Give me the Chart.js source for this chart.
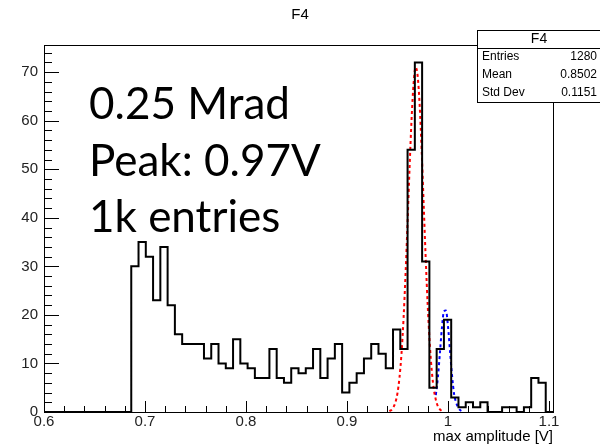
<!DOCTYPE html>
<html>
<head>
<meta charset="utf-8">
<title>F4</title>
<script src="https://cdn.jsdelivr.net/npm/chart.js@4.4.1/dist/chart.umd.min.js"></script>
<style>
  html, body { margin: 0; padding: 0; background: #fff; }
  #wrap { width: 600px; height: 447px; }
</style>
</head>
<body>
<div id="wrap"><canvas id="hist" width="600" height="447"></canvas></div>
<script>
// histogram: 70 bins on [xLow, xHigh]
const xLow = 0.6;
const xHigh = 1.104;
const binCounts = [
  0, 0, 0, 0, 0, 0, 0, 0, 0, 0, 0, 0,
  30, 35, 32, 23, 34, 22, 16, 14, 14, 14,
  11, 14, 10, 9, 15, 10, 9, 7, 7, 13,
  7, 6, 9, 8, 9, 13, 7, 11, 14, 4,
  6, 8, 11, 14, 12, 9, 17, 13, 54, 72,
  31, 5, 13, 19, 3, 1, 2, 1, 2, 0,
  0, 1, 1, 0, 1, 7, 6, 0
];
const yTop = 75.6;

// fitted peaks (red: main peak, blue: second peak)
const redFitX = [0.942, 0.944, 0.946, 0.948, 0.950, 0.952, 0.954, 0.956, 0.958, 0.960, 0.962, 0.964, 0.966, 0.968,
                 0.970, 0.972, 0.974, 0.976, 0.978, 0.980, 0.982, 0.984, 0.986, 0.988, 0.990, 0.992, 0.994];
const redFitY = [0.2, 0.4, 1.0, 2.0, 3.9, 7.1, 12.1, 19.2, 28.4, 39.1, 50.4, 60.5, 67.8, 71.0,
                 69.2, 63.1, 53.6, 42.5, 31.4, 21.7, 14.0, 8.4, 4.7, 2.5, 1.2, 0.55, 0.2];
const blueFitX = [0.988, 0.990, 0.992, 0.994, 0.996, 0.998, 1.000, 1.002, 1.004, 1.006, 1.008, 1.010, 1.012, 1.014, 1.016];
const blueFitY = [3.5, 7.1, 12.1, 17.3, 20.7, 20.9, 17.7, 12.6, 7.6, 3.8, 2.0, 1.0, 0.4, 0.15, 0.05];

const xTickValues = [0.6, 0.7, 0.8, 0.9, 1.0, 1.1];
const yTickValues = [0, 10, 20, 30, 40, 50, 60, 70];

const statLabels = ['Entries', 'Mean', 'Std Dev'];
const statValues = ['1280', '0.8502', '0.1151'];
const noteLines = ['0.25 Mrad', 'Peak: 0.97V', '1k entries'];

const binWidth = (xHigh - xLow) / binCounts.length;
const histPoints = binCounts.map((c, i) => ({ x: xLow + i * binWidth, y: c }));
histPoints.push({ x: xHigh, y: binCounts[binCounts.length - 1] });

const sans = '"Liberation Sans", Arial, sans-serif';

// ROOT style frame, inward ticks, stats box and notes
const rootFrame = {
  id: 'rootFrame',
  afterDraw(chart) {
    const { ctx, chartArea: a } = chart;
    const xs = chart.scales.x, ys = chart.scales.y;
    const L = Math.round(a.left), R = Math.round(a.right);
    const T = Math.round(a.top), B = Math.round(a.bottom);

    ctx.save();
    ctx.setLineDash([]);
    ctx.fillStyle = '#000';
    ctx.fillRect(L, T, R - L + 1, 1);
    ctx.fillRect(L, B, R - L + 1, 1);
    ctx.fillRect(L, T, 1, B - T + 1);
    ctx.fillRect(R, T, 1, B - T + 1);

    // x ticks every 0.02, long ones at 0.1
    for (let k = 0; k <= 25; k++) {
      const v = xLow + k * 0.02;
      if (v > xHigh) break;
      const px = Math.round(xs.getPixelForValue(v));
      const len = k % 5 === 0 ? 11 : 6;
      ctx.fillRect(px, B - len, 1, len);
    }
    // y ticks every 2, long ones at 10
    for (let v = 0; v <= yTop; v += 2) {
      const py = Math.round(ys.getPixelForValue(v));
      const len = v % 10 === 0 ? 15 : 8;
      ctx.fillRect(L, py, len, 1);
    }

    ctx.font = '15px ' + sans;
    ctx.textAlign = 'center';
    ctx.textBaseline = 'middle';
    ctx.fillText('F4', 300, 15);

    ctx.textAlign = 'right';
    ctx.fillText('max amplitude [V]', a.right, 437);

    // stats box
    const bx = 477, by = 30, rowH = 18;
    ctx.fillStyle = '#fff';
    ctx.fillRect(bx, by, 130, rowH * 4);
    ctx.fillStyle = '#000';
    ctx.fillRect(bx, by, 130, 1);
    ctx.fillRect(bx, by + rowH * 4, 130, 1);
    ctx.fillRect(bx, by, 1, rowH * 4);
    ctx.fillRect(bx, by + rowH, 130, 1);
    ctx.font = '14px ' + sans;
    ctx.textAlign = 'center';
    ctx.fillText('F4', 539, by + rowH / 2);
    ctx.font = '12px ' + sans;
    statLabels.forEach((s, i) => {
      const cy = by + rowH * (i + 1.5);
      ctx.textAlign = 'left';
      ctx.fillText(s, bx + 5, cy);
      ctx.textAlign = 'right';
      ctx.fillText(statValues[i], 597, cy);
    });

    ctx.font = '44px Lato, "Open Sans", sans-serif';
    ctx.textAlign = 'left';
    ctx.textBaseline = 'alphabetic';
    noteLines.forEach((s, i) => ctx.fillText(s, 89, 119 + i * 56.5));
    ctx.restore();
  }
};

const tickFont = { family: sans, size: 15 };

new Chart(document.getElementById('hist'), {
  type: 'line',
  data: {
    datasets: [
      {
        label: 'F4',
        data: histPoints,
        stepped: true,
        borderColor: '#000',
        borderWidth: 2,
        pointRadius: 0,
        fill: false
      },
      {
        label: 'fit 1',
        data: redFitX.map((v, i) => ({ x: v, y: redFitY[i] })),
        borderColor: '#ff0000',
        borderWidth: 2,
        borderDash: [3, 3],
        cubicInterpolationMode: 'monotone',
        pointRadius: 0,
        fill: false
      },
      {
        label: 'fit 2',
        data: blueFitX.map((v, i) => ({ x: v, y: blueFitY[i] })),
        borderColor: '#0000ff',
        borderWidth: 2,
        borderDash: [3, 3],
        cubicInterpolationMode: 'monotone',
        pointRadius: 0,
        fill: false
      }
    ]
  },
  options: {
    responsive: false,
    animation: false,
    devicePixelRatio: 1,
    layout: { padding: { left: 0, right: 47, top: 45, bottom: 0 } },
    plugins: { legend: { display: false }, tooltip: { enabled: false }, title: { display: false } },
    scales: {
      x: {
        type: 'linear',
        min: xLow,
        max: xHigh,
        grid: { display: false, drawTicks: false },
        border: { display: false },
        ticks: {
          font: tickFont,
          color: '#222',
          padding: 1,
          maxRotation: 0,
          autoSkip: false,
          callback: v => String(+v.toFixed(1))
        },
        afterBuildTicks: s => { s.ticks = xTickValues.map(v => ({ value: v })); },
        afterFit: s => { s.height = 35; }
      },
      y: {
        min: 0,
        max: yTop,
        grid: { display: false, drawTicks: false },
        border: { display: false },
        ticks: { font: tickFont, color: '#222', padding: 6, autoSkip: false },
        afterBuildTicks: s => { s.ticks = yTickValues.map(v => ({ value: v })); },
        afterFit: s => { s.width = 44; }
      }
    }
  },
  plugins: [rootFrame]
});
</script>
</body>
</html>
